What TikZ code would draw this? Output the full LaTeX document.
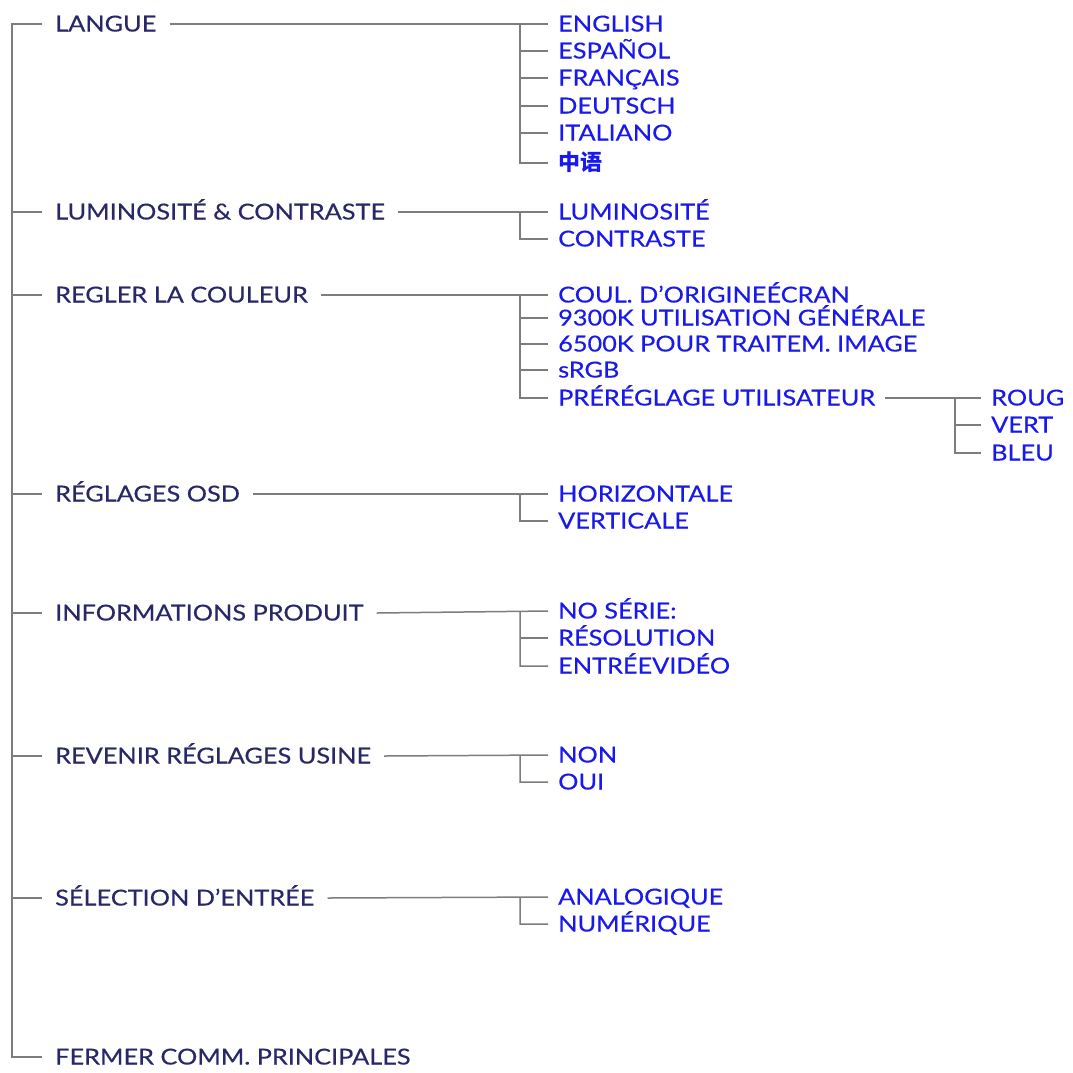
\documentclass[tikz,border=0pt]{standalone}
\usepackage{fontspec}
\setmainfont[FakeStretch=1.15, FakeBold=0.4]{Lato}
\newfontfamily\cjk{Noto Sans CJK SC}
\usetikzlibrary{positioning}
\definecolor{menu-navy}{RGB}{40, 40, 105}
\definecolor{menu-blue}{RGB}{25, 25, 235}
\definecolor{menu-grey}{RGB}{125, 125, 125}
\tikzset{
  main/.style={anchor=west, inner xsep=13pt, inner ysep=0pt, text depth=0pt,
    text height=15pt, text=menu-navy, font=\fontsize{22}{22}\selectfont},
  sub/.style={anchor=west, inner xsep=10pt, inner ysep=0pt, text depth=0pt,
    text height=15pt, text=menu-blue, font=\fontsize{22}{22}\selectfont},
  wire/.style={draw=menu-grey, line width=1.5pt}
}

\begin{document}
\begin{tikzpicture}[x=1pt, y=-1pt]
  \useasboundingbox (0,0) rectangle (1073,1072);
  % main menu
  \node[main] (langue) at (42,24) {LANGUE};
  \node[main] (lumi) at (42,212) {LUMINOSITÉ \& CONTRASTE};
  \node[main] (couleur) at (42,295) {REGLER LA COULEUR};
  \node[main] (osd) at (42,494) {RÉGLAGES OSD};
  \node[main] (info) at (42,613) {INFORMATIONS PRODUIT};
  \node[main] (usine) at (42,756) {REVENIR RÉGLAGES USINE};
  \node[main] (entree) at (42,898) {SÉLECTION D’ENTRÉE};
  \node[main] (fermer) at (42,1057) {FERMER COMM. PRINCIPALES};
  \coordinate (root) at (12,24);
  \draw[wire] (langue.west) -- (root) |- (fermer.west);
  \foreach \n in {lumi, couleur, osd, info, usine, entree}
    \draw[wire] (root |- \n.west) -- (\n.west);
  % langue
  \node[sub] (en) at (548,24) {ENGLISH};
  \node[sub] (es) at (548,51) {ESPAÑOL};
  \node[sub] (fr) at (548,78) {FRANÇAIS};
  \node[sub] (de) at (548,106) {DEUTSCH};
  \node[sub] (it) at (548,133) {ITALIANO};
  \node[sub] (zh) at (548,163) {\cjk\bfseries 中语};
  \coordinate (b1) at (520,24);
  \draw[wire] (langue.east) -- (en.west) (b1) |- (zh.west);
  \foreach \n in {es, fr, de, it}
    \draw[wire] (b1 |- \n.west) -- (\n.west);
  % luminosite
  \node[sub] (lum) at (548,212) {LUMINOSITÉ};
  \node[sub] (con) at (548,239) {CONTRASTE};
  \coordinate (b2) at (520,212);
  \draw[wire] (lumi.east) -- (lum.west) (b2) |- (con.west);
  % couleur
  \node[sub] (orig) at (548,295) {COUL. D'ORIGINEÉCRAN};
  \node[sub] (k93) at (548,318) {9300K UTILISATION GÉNÉRALE};
  \node[sub] (k65) at (548,344) {6500K POUR TRAITEM. IMAGE};
  \node[sub] (srgb) at (548,370) {sRGB};
  \node[sub] (pre) at (548,398) {PRÉRÉGLAGE UTILISATEUR};
  \coordinate (b3) at (520,295);
  \draw[wire] (couleur.east) -- (orig.west) (b3) |- (pre.west);
  \foreach \n in {k93, k65, srgb}
    \draw[wire] (b3 |- \n.west) -- (\n.west);
  % preglage utilisateur
  \node[sub] (rouge) at (981,398) {ROUG};
  \node[sub] (vert) at (981,425) {VERT};
  \node[sub] (bleu) at (981,453) {BLEU};
  \coordinate (b4) at (955,398);
  \draw[wire] (pre.east) -- (rouge.west) (b4) |- (bleu.west);
  \draw[wire] (b4 |- vert.west) -- (vert.west);
  % osd
  \node[sub] (hor) at (548,494) {HORIZONTALE};
  \node[sub] (ver) at (548,521) {VERTICALE};
  \coordinate (b5) at (520,494);
  \draw[wire] (osd.east) -- (hor.west) (b5) |- (ver.west);
  % informations
  \node[sub] (serie) at (548,611) {NO SÉRIE:};
  \node[sub] (reso) at (548,638) {RÉSOLUTION};
  \node[sub] (video) at (548,666) {ENTRÉEVIDÉO};
  \coordinate (b6) at (520,611);
  \draw[wire] (info.east) -- (serie.west) (b6) |- (video.west);
  \draw[wire] (b6 |- reso.west) -- (reso.west);
  % usine
  \node[sub] (non) at (548,755) {NON};
  \node[sub] (oui) at (548,782) {OUI};
  \coordinate (b7) at (520,755);
  \draw[wire] (usine.east) -- (non.west) (b7) |- (oui.west);
  % entree
  \node[sub] (ana) at (548,897) {ANALOGIQUE};
  \node[sub] (num) at (548,924) {NUMÉRIQUE};
  \coordinate (b8) at (520,897);
  \draw[wire] (entree.east) -- (ana.west) (b8) |- (num.west);
\end{tikzpicture}
\end{document}
